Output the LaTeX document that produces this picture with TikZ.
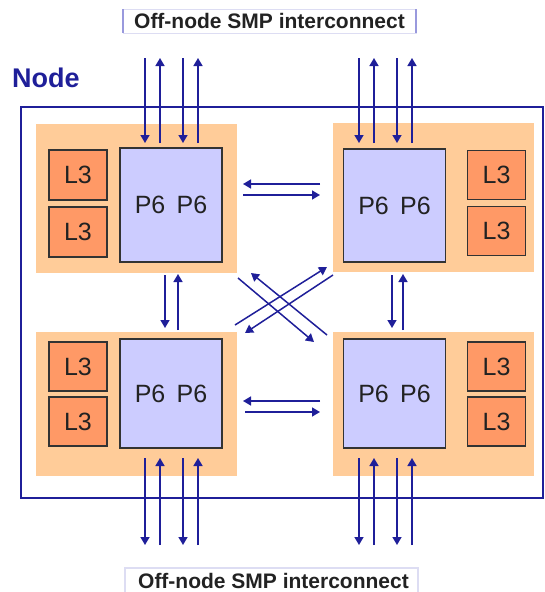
\documentclass[tikz,border=0pt]{standalone}
\usepackage{fontspec}
\setmainfont{Liberation Sans}
\usetikzlibrary{arrows.meta,calc}
\definecolor{navy}{HTML}{1F1F99}
\definecolor{chipbg}{HTML}{FFCC99}
\definecolor{pfill}{HTML}{CCCCFF}
\definecolor{lfill}{HTML}{FF9966}
\definecolor{edge}{HTML}{333333}
\definecolor{txt}{HTML}{222222}
\definecolor{lav}{HTML}{9999DD}
\definecolor{lavlt}{HTML}{DDDDF3}
\begin{document}
\begin{tikzpicture}[x=1pt,y=-1pt,
  chip/.style={fill=chipbg,draw=none,minimum width=201pt,inner sep=0pt},
  pbox/.style={fill=pfill,draw=edge,line width=1.3pt,minimum width=102pt,inner sep=0pt,
    text=txt,font=\fontsize{25}{25}\selectfont},
  lbox/.style={fill=lfill,draw=edge,line width=1.3pt,minimum width=58pt,inner sep=0pt,
    text=txt,font=\fontsize{25}{25}\selectfont},
  link/.style={draw=navy,line width=1.5pt,-{Triangle[length=8pt,width=9pt]}},
  lbl/.style={text=txt,font=\bfseries\fontsize{21}{21}\selectfont,inner sep=0pt}]
\useasboundingbox (0,0) rectangle (544,592);
% outer node box
\node[draw=navy,line width=2pt,minimum width=522pt,minimum height=391pt,inner sep=0pt] (outer) at (282,302.5) {};
\node[anchor=base west,inner sep=0pt,text=navy,font=\bfseries\fontsize{27}{27}\selectfont] (nodelbl) at (12,87) {Node};
% chips
\node[chip,minimum height=149pt] (tl) at (136.5,198.5) {};
\node[chip,minimum height=149pt] (tr) at (433.5,197.5) {};
\node[chip,minimum height=144pt] (bl) at (136.5,404) {};
\node[chip,minimum height=144pt] (br) at (433.5,404) {};
% processors
\node[pbox,minimum height=114pt] (ptl) at (171,205) {P6\hspace{0.45em}P6};
\node[pbox,minimum height=113pt] (ptr) at (394.5,205.5) {P6\hspace{0.45em}P6};
\node[pbox,minimum height=109pt] (pbl) at (171,393.5) {P6\hspace{0.45em}P6};
\node[pbox,minimum height=109pt] (pbr) at (394.5,393.5) {P6\hspace{0.45em}P6};
% L3 caches
\node[lbox,minimum height=50pt] (l1) at (78,175) {L3};
\node[lbox,minimum height=50pt] (l2) at (78,232) {L3};
\node[lbox,minimum height=49pt] (l3) at (496.5,175) {L3};
\node[lbox,minimum height=49pt] (l4) at (496.5,231) {L3};
\node[lbox,minimum height=49pt] (l5) at (78,366.5) {L3};
\node[lbox,minimum height=49pt] (l6) at (78,421.5) {L3};
\node[lbox,minimum height=49pt] (l7) at (496.5,366.5) {L3};
\node[lbox,minimum height=49pt] (l8) at (496.5,421.5) {L3};
% labels
\draw[lavlt,line width=1pt] (123,9) rectangle (416,33);
\draw[lav,line width=2.5pt] (123,9) -- (123,33) (416,9) -- (416,33);
\node[lbl,anchor=base] (toplbl) at (269.5,28.5) {Off-node SMP interconnect};
\draw[lavlt,line width=1.2pt] (125,568) rectangle (418,600);
\node[lbl,anchor=base] (botlbl) at (273.5,588) {Off-node SMP interconnect};
% off-node links (top)
\foreach \x in {145,183,359,397}{
  \coordinate (a\x) at (\x,58); \coordinate (b\x) at (\x,143);
  \draw[link] (a\x) -- (b\x);}
\foreach \x in {160,198,374,412}{
  \coordinate (a\x) at (\x,143); \coordinate (b\x) at (\x,58);
  \draw[link] (a\x) -- (b\x);}
% off-node links (bottom)
\foreach \x in {145,183,359,397}{
  \coordinate (c\x) at (\x,458); \coordinate (d\x) at (\x,545);
  \draw[link] (c\x) -- (d\x);}
\foreach \x in {160,198,374,412}{
  \coordinate (c\x) at (\x,545); \coordinate (d\x) at (\x,458);
  \draw[link] (c\x) -- (d\x);}
% horizontal links
\coordinate (h1a) at (320,184); \coordinate (h1b) at (243,184);
\coordinate (h2a) at (243,195); \coordinate (h2b) at (320,195);
\coordinate (h3a) at (320,401); \coordinate (h3b) at (243,401);
\coordinate (h4a) at (245,412); \coordinate (h4b) at (320,412);
\draw[link] (h1a) -- (h1b);
\draw[link] (h2a) -- (h2b);
\draw[link] (h3a) -- (h3b);
\draw[link] (h4a) -- (h4b);
% vertical links
\coordinate (v1a) at (165,275); \coordinate (v1b) at (165,328);
\coordinate (v2a) at (178,330); \coordinate (v2b) at (178,274);
\coordinate (v3a) at (392,275); \coordinate (v3b) at (392,328);
\coordinate (v4a) at (403,330); \coordinate (v4b) at (403,274);
\draw[link] (v1a) -- (v1b);
\draw[link] (v2a) -- (v2b);
\draw[link] (v3a) -- (v3b);
\draw[link] (v4a) -- (v4b);
% diagonal links
\coordinate (x1a) at (235,325); \coordinate (x1b) at (327,267);
\coordinate (x2a) at (333,275); \coordinate (x2b) at (245,333);
\coordinate (x3a) at (238,278); \coordinate (x3b) at (314,342);
\coordinate (x4a) at (327,335); \coordinate (x4b) at (251,273);
\draw[link] (x1a) -- (x1b);
\draw[link] (x2a) -- (x2b);
\draw[link] (x3a) -- (x3b);
\draw[link] (x4a) -- (x4b);
\end{tikzpicture}
\end{document}
